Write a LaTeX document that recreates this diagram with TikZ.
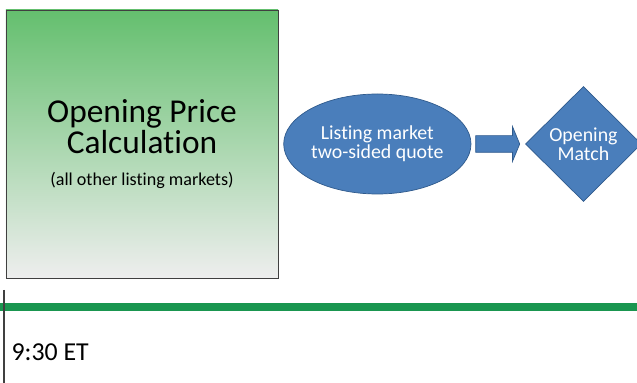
\documentclass[tikz,border=0pt]{standalone}
\usepackage{fontspec}
\setmainfont{Carlito}[Ligatures={NoCommon}]
\usetikzlibrary{positioning,shapes.geometric,shapes.arrows}

\definecolor{calcgreen}{HTML}{64BF6E}
\definecolor{calcgrey}{HTML}{EEEEEE}
\definecolor{quoteblue}{HTML}{4A7EBB}
\definecolor{quoteedge}{HTML}{2F5A8C}
\definecolor{timegreen}{HTML}{1A9650}

\begin{document}
\begin{tikzpicture}[semithick, >=stealth,
    blueshape/.style={draw=quoteedge, fill=quoteblue, text=white, thin,
      align=center, font=\fontsize{11.3}{9.5}\selectfont}]
  \useasboundingbox (0,0) rectangle (12.74,-7.66);

  \node[draw=black!75, thin, rectangle, minimum width=5.44cm, minimum height=5.36cm,
    top color=calcgreen, bottom color=calcgrey, align=center,
    font=\fontsize{19}{17.6}\selectfont] (calc) at (2.84,-2.88)
    {Opening Price\\ Calculation\\[1pt] {\fontsize{10.3}{12}\selectfont (all other listing markets)}};

  \node[blueshape, ellipse, minimum width=3.5cm, minimum height=2cm, inner sep=0pt,
    right=0.1cm of calc] (quote) {Listing market\\ two-sided quote};
  \node[blueshape, single arrow, minimum height=0.88cm, minimum width=0.68cm,
    inner xsep=0pt, inner ysep=0.16cm,
    single arrow head extend=0.18cm, single arrow tip angle=135,
    right=0.08cm of quote] (push) {};
  \node[blueshape, diamond, aspect=1, minimum width=2.32cm, minimum height=2.3cm,
    inner sep=0pt, right=0.1cm of push] (match) {Opening\\ Match};

  % time line
  \coordinate (tl) at (0,-6.14);
  \coordinate (tr) at (12.74,-6.14);
  \draw[timegreen, line width=5pt] (tl) -- (tr);
  \coordinate (tick) at (0.08,-5.8);
  \draw[black!75, line width=1.2pt] (tick) -- ++(0,-1.86);
  \node[anchor=west, inner sep=0pt, font=\fontsize{14.7}{16}\selectfont] (time) at (0.22,-7.04) {9:30 ET};
\end{tikzpicture}
\end{document}
